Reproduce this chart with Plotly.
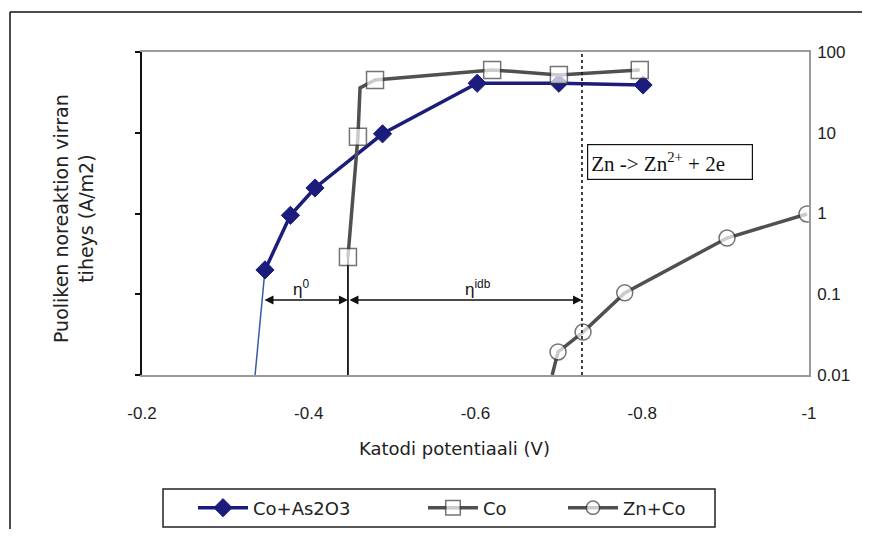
import plotly.graph_objects as go
import math

# ---- data ----
as_x = [-0.3475, -0.378, -0.4075, -0.4885, -0.602, -0.700, -0.801]
as_y = [0.20, 0.95, 2.07, 9.7, 41.0, 41.0, 39.0]

co_x = [-0.447, -0.459, -0.4615, -0.4795, -0.620, -0.700, -0.797]
co_y = [0.29, 8.9, 36.0, 45.0, 60.0, 52.0, 60.0]
co_marker = [True, True, False, True, True, True, True]

zn_x = [-0.692, -0.699, -0.729, -0.779, -0.9017, -0.9976]
zn_y = [0.010, 0.0193, 0.034, 0.104, 0.497, 0.986]
zn_marker = [False, True, True, True, True, True]

# guide lines
as_tail_x = [-0.3475, -0.3356]
as_tail_y = [0.20, 0.01]
co_drop_x = [-0.447, -0.447]
co_drop_y = [0.29, 0.01]
zn_eq_x = [-0.7277, -0.7277]
zn_eq_y = [0.01, 100]

# overpotential arrows
eta_x = [-0.3451, -0.447, -0.7277]
eta_y = 0.085
eta_labels = ["η<sup>0</sup>", "η<sup>idb</sup>"]
eta_label_x = [-0.391, -0.603]
eta_label_y = 0.12

reaction_text = "Zn -> Zn<sup>2+</sup> + 2e"
reaction_x = -0.7337
reaction_y = 4.35

x_ticks = [-0.2, -0.4, -0.6, -0.8, -1.0]
x_ticktext = ["-0.2", "-0.4", "-0.6", "-0.8", "-1"]
y_ticks = [0.01, 0.1, 1, 10, 100]
y_ticktext = ["0.01", "0.1", "1", "10", "100"]

NAVY = "#1c1c7c"
GRAY = "#505050"
FONT = "Liberation Sans"
TFONT = "DejaVu Sans"
FS = 17

W, H = 855, 521          # figure size (page body adds an 8px margin)
ML, MT = 134, 44         # plot area origin inside the figure
PW, PH = 667, 323        # plot area size

fig = go.Figure()

fig.add_trace(go.Scatter(x=as_tail_x, y=as_tail_y, mode="lines",
                         line=dict(color="#3a5aa8", width=1.5),
                         showlegend=False, hoverinfo="skip"))
fig.add_trace(go.Scatter(x=co_drop_x, y=co_drop_y, mode="lines",
                         line=dict(color="#111111", width=1.8),
                         showlegend=False, hoverinfo="skip"))
fig.add_trace(go.Scatter(x=zn_eq_x, y=zn_eq_y, mode="lines", yaxis="y2",
                         line=dict(color="#111111", width=1.6, dash="dot"),
                         showlegend=False, hoverinfo="skip"))

fig.add_trace(go.Scatter(x=as_x, y=as_y, mode="lines+markers", name="Co+As2O3",
                         line=dict(color=NAVY, width=3.5),
                         marker=dict(symbol="diamond", size=14, color=NAVY,
                                     line=dict(color=NAVY, width=1)),
                         legend="legend"))
fig.add_trace(go.Scatter(x=co_x, y=co_y, mode="lines+markers", name="Co",
                         line=dict(color=GRAY, width=3.5),
                         marker=dict(symbol="square", size=[17 if m else 0 for m in co_marker],
                                     color="white", line=dict(color="#3a3a3a", width=1.5)),
                         legend="legend2"))
fig.add_trace(go.Scatter(x=zn_x, y=zn_y, mode="lines+markers", name="Zn+Co",
                         line=dict(color=GRAY, width=3.5),
                         marker=dict(symbol="circle", size=[16 if m else 0 for m in zn_marker],
                                     color="white", line=dict(color="#3a3a3a", width=1.5)),
                         legend="legend3"))

# reference-pixel -> paper helpers (plot area spans 142..809 x 52..375 in the reference)
def px_x(p):
    return (p - 142) / float(PW)

def px_y(p):
    return (375 - p) / float(PH)

# reference-pixel -> container fractions
def cx(p):
    return (p - 8) / float(W)

def cy(p):
    return 1 - (p - 8) / float(H)

annotations = []
for i in range(2):
    annotations.append(dict(x=eta_x[i + 1], y=math.log10(eta_y), ax=eta_x[i], ay=math.log10(eta_y),
                            xref="x", yref="y", axref="x", ayref="y", text="",
                            showarrow=True, arrowhead=2, arrowsize=1.2, arrowwidth=1.5,
                            arrowcolor="#111111", arrowside="end+start"))
    annotations.append(dict(x=eta_label_x[i], y=math.log10(eta_label_y), xref="x", yref="y",
                            text=eta_labels[i], showarrow=False, xanchor="center", yanchor="middle",
                            font=dict(family=FONT, size=17, color="#111111")))
annotations.append(dict(x=reaction_x, y=math.log10(reaction_y), xref="x", yref="y",
                        text=reaction_text, showarrow=False, xanchor="left", yanchor="middle",
                        align="left", width=158, height=28, bgcolor="white",
                        bordercolor="#111111", borderwidth=1.2, borderpad=3,
                        font=dict(family="Liberation Serif", size=21, color="#111111")))
annotations.append(dict(x=px_x(73), y=px_y(219), xref="paper", yref="paper",
                        xanchor="center", yanchor="middle",
                        text="Puoliken noreaktion virran<br>tiheys (A/m2)", textangle=-90,
                        showarrow=False, font=dict(family=TFONT, size=19, color="#222222")))
annotations.append(dict(x=px_x(454), y=px_y(448), xref="paper", yref="paper",
                        xanchor="center", yanchor="middle",
                        text="Katodi potentiaali (V)", showarrow=False,
                        font=dict(family=TFONT, size=18, color="#222222")))

shapes = [
    # outer chart frame (only its left and top edges fall inside the picture)
    dict(type="line", xref="paper", yref="paper", x0=px_x(10), x1=px_x(10),
         y0=px_y(540), y1=px_y(12), line=dict(color="#111111", width=1.5)),
    dict(type="line", xref="paper", yref="paper", x0=px_x(10), x1=px_x(862),
         y0=px_y(12), y1=px_y(12), line=dict(color="#111111", width=1.5)),
    # legend frame
    dict(type="rect", xref="paper", yref="paper", x0=px_x(163), x1=px_x(715),
         y0=px_y(527), y1=px_y(489), line=dict(color="#222222", width=1.5)),
]

leg_common = dict(orientation="h", bgcolor="rgba(0,0,0,0)", borderwidth=0,
                  font=dict(family=TFONT, size=18, color="#222222"),
                  xref="container", yref="container",
                  yanchor="middle", y=cy(508), xanchor="left", itemwidth=50)

fig.update_layout(
    width=W, height=H, autosize=False,
    margin=dict(l=ML, r=W - ML - PW, t=MT, b=H - MT - PH, autoexpand=False),
    paper_bgcolor="white", plot_bgcolor="white",
    font=dict(family=FONT, size=FS, color="#222222"),
    xaxis=dict(range=[-0.2, -1.0], tickvals=x_ticks, ticktext=x_ticktext,
               showline=True, mirror=True, linecolor="#9a9a9a", linewidth=1.5,
               showgrid=False, zeroline=False, ticks="", ticklabelstandoff=22,
               tickfont=dict(family=FONT, size=FS, color="#222222")),
    yaxis=dict(type="log", range=[-2, 2], tickvals=y_ticks, showticklabels=False,
               showline=True, linecolor="#111111", linewidth=2, ticks="outside",
               ticklen=5, tickwidth=2, tickcolor="#111111", showgrid=False, zeroline=False),
    yaxis2=dict(type="log", range=[-2, 2], overlaying="y", side="right",
                tickvals=y_ticks, ticktext=y_ticktext, showline=True,
                linecolor="#9a9a9a", linewidth=1.5, ticks="", showgrid=False,
                zeroline=False, ticklabelstandoff=3,
                tickfont=dict(family=FONT, size=FS, color="#222222")),
    legend=dict(x=cx(193), **leg_common),
    legend2=dict(x=cx(423), **leg_common),
    legend3=dict(x=cx(563), **leg_common),
    annotations=annotations,
    shapes=shapes,
    showlegend=True,
)

fig.write_html("out.html")
